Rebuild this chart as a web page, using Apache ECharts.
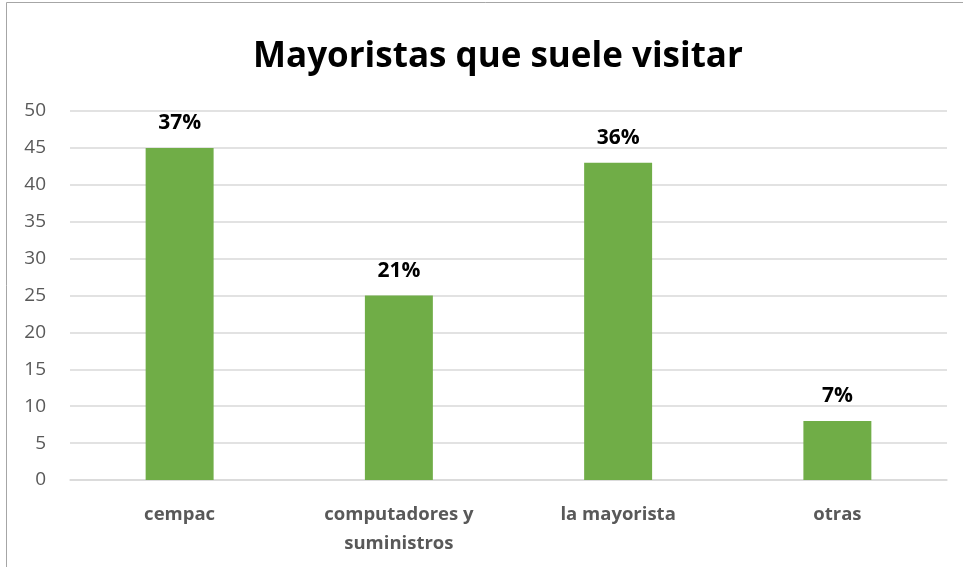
<!DOCTYPE html>
<html>
<head>
<meta charset="utf-8">
<script src="https://cdn.jsdelivr.net/npm/echarts@6/dist/echarts.min.js"></script>
<style>
  html, body { margin: 0; padding: 0; background: #fff; }
  #main { width: 963px; height: 567px; }
</style>
</head>
<body>
<div id="main"></div>
<script>
// datos
const categories = ['cempac', 'computadores y\nsuministros', 'la mayorista', 'otras']
const values = [45, 25, 43, 8]
const percentLabels = ['37%', '21%', '36%', '7%']

const chart = echarts.init(document.getElementById('main'))
const font = '"Open Sans", "Noto Sans", sans-serif'

chart.setOption({
  animation: false,
  title: {
    text: 'Mayoristas que suele visitar',
    left: 248,
    top: 35,
    textStyle: { fontFamily: font, fontSize: 35, fontWeight: 'bold', color: '#000' },
  },
  graphic: [
    {
      type: 'rect',
      shape: { x: 6.5, y: 2.5, width: 970, height: 580 },
      style: { fill: 'none', stroke: '#a6a6a6', lineWidth: 1 },
    },
  ],
  grid: { left: 70, right: 16, top: 111, bottom: 87 },
  xAxis: {
    type: 'category',
    data: categories,
    axisLine: { lineStyle: { color: '#d9d9d9', width: 1.5 } },
    axisTick: { show: false },
    axisLabel: {
      margin: 20,
      fontFamily: font,
      fontSize: 18.5,
      fontWeight: 'bold',
      color: '#595959',
      lineHeight: 29,
    },
  },
  yAxis: {
    type: 'value',
    min: 0,
    max: 50,
    interval: 5,
    axisLine: { show: false },
    axisTick: { show: false },
    splitLine: { lineStyle: { color: '#d9d9d9', width: 1.5 } },
    axisLabel: { margin: 24, fontFamily: font, fontSize: 19, color: '#595959' },
  },
  series: [
    {
      type: 'bar',
      data: values,
      barWidth: '31%',
      itemStyle: { color: '#70ad47' },
      label: {
        show: true,
        position: 'top',
        distance: 14,
        formatter: p => percentLabels[p.dataIndex],
        fontFamily: font,
        fontSize: 21,
        fontWeight: 'bold',
        color: '#000',
      },
    },
  ],
})
</script>
</body>
</html>
